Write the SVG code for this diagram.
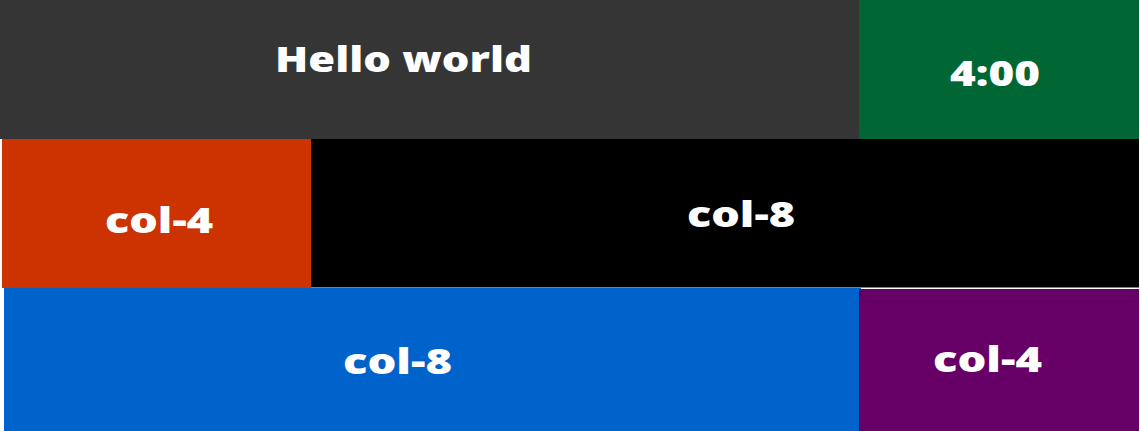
<svg xmlns="http://www.w3.org/2000/svg" width="1140" height="431" viewBox="0 0 1140 431">
<style>
.t{font-family:"Open Sans","Noto Sans","Liberation Sans",sans-serif;font-weight:800;font-size:35px;fill:#ffffff;text-anchor:middle}
</style>
<rect x="0" y="0" width="1140" height="431" fill="#ffffff"/>
<g id="hello"><rect x="0" y="0" width="859" height="139" fill="#353535"/><text class="t" x="403.5" y="72" textLength="257" lengthAdjust="spacingAndGlyphs">Hello world</text></g>
<g id="clock"><rect x="859" y="0" width="280" height="139" fill="#006633"/><text class="t" x="995" y="86" textLength="90" lengthAdjust="spacingAndGlyphs">4:00</text></g>
<g id="row2-col4"><rect x="2" y="139" width="309" height="149" fill="#cc3300"/><text class="t" x="159" y="233" textLength="108" lengthAdjust="spacingAndGlyphs">col-4</text></g>
<g id="row2-col8"><rect x="311" y="139" width="828" height="148.5" fill="#000000"/><text class="t" x="741" y="227" textLength="108" lengthAdjust="spacingAndGlyphs">col-8</text></g>
<g id="row3-col8"><rect x="4" y="288" width="857" height="143" fill="#0063cc"/><text class="t" x="397.5" y="374" textLength="109" lengthAdjust="spacingAndGlyphs">col-8</text></g>
<g id="row3-col4"><rect x="859" y="289" width="280" height="142" fill="#660066"/><text class="t" x="987.5" y="372" textLength="109" lengthAdjust="spacingAndGlyphs">col-4</text></g>
<g id="connectors"/>
</svg>
